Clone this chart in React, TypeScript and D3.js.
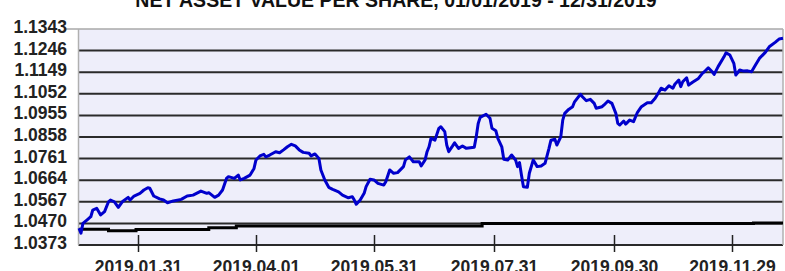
import React, { useEffect, useRef } from "react";
import * as d3 from "d3";

const chartTitle = "NET ASSET VALUE PER SHARE, 01/01/2019 - 12/31/2019";

const yTicks = [1.0373, 1.047, 1.0567, 1.0664, 1.0761, 1.0858, 1.0955, 1.1052, 1.1149, 1.1246, 1.1343];
const xTicks = ["2019-01-31", "2019-04-01", "2019-05-31", "2019-07-31", "2019-09-30", "2019-11-29"];

// NAV per share (blue)
const navDates = [
  "2019-01-01", "2019-01-02", "2019-01-03", "2019-01-05", "2019-01-07", "2019-01-08", "2019-01-10", "2019-01-12",
  "2019-01-14", "2019-01-16", "2019-01-17", "2019-01-19", "2019-01-21", "2019-01-23", "2019-01-26", "2019-01-27",
  "2019-01-29", "2019-02-01", "2019-02-03", "2019-02-05", "2019-02-06", "2019-02-08", "2019-02-11", "2019-02-13",
  "2019-02-15", "2019-02-18", "2019-02-22", "2019-02-25", "2019-02-28", "2019-03-04", "2019-03-07", "2019-03-08",
  "2019-03-11", "2019-03-13", "2019-03-15", "2019-03-17", "2019-03-18", "2019-03-21", "2019-03-23", "2019-03-24",
  "2019-03-26", "2019-03-29", "2019-03-31", "2019-04-01", "2019-04-03", "2019-04-05", "2019-04-06", "2019-04-08",
  "2019-04-11", "2019-04-13", "2019-04-15", "2019-04-17", "2019-04-19", "2019-04-21", "2019-04-23", "2019-04-25",
  "2019-04-28", "2019-04-29", "2019-05-01", "2019-05-03", "2019-05-04", "2019-05-06", "2019-05-08", "2019-05-10",
  "2019-05-13", "2019-05-15", "2019-05-18", "2019-05-20", "2019-05-21", "2019-05-22", "2019-05-24", "2019-05-26",
  "2019-05-27", "2019-05-29", "2019-05-31", "2019-06-02", "2019-06-05", "2019-06-06", "2019-06-08", "2019-06-10",
  "2019-06-12", "2019-06-15", "2019-06-16", "2019-06-18", "2019-06-20", "2019-06-23", "2019-06-24", "2019-06-26",
  "2019-06-27", "2019-06-28", "2019-06-29", "2019-07-01", "2019-07-03", "2019-07-04", "2019-07-06", "2019-07-07",
  "2019-07-08", "2019-07-10", "2019-07-11", "2019-07-13", "2019-07-15", "2019-07-17", "2019-07-21", "2019-07-22",
  "2019-07-23", "2019-07-24", "2019-07-27", "2019-07-29", "2019-07-30", "2019-08-01", "2019-08-02", "2019-08-04",
  "2019-08-05", "2019-08-07", "2019-08-09", "2019-08-11", "2019-08-12", "2019-08-13", "2019-08-14", "2019-08-15",
  "2019-08-17", "2019-08-18", "2019-08-20", "2019-08-22", "2019-08-24", "2019-08-26", "2019-08-28", "2019-08-29",
  "2019-08-31", "2019-09-01", "2019-09-03", "2019-09-04", "2019-09-05", "2019-09-07", "2019-09-09", "2019-09-10",
  "2019-09-13", "2019-09-14", "2019-09-16", "2019-09-18", "2019-09-20", "2019-09-21", "2019-09-24", "2019-09-25",
  "2019-09-27", "2019-09-29", "2019-10-01", "2019-10-02", "2019-10-03", "2019-10-05", "2019-10-06", "2019-10-08",
  "2019-10-10", "2019-10-12", "2019-10-14", "2019-10-17", "2019-10-19", "2019-10-21", "2019-10-23", "2019-10-24",
  "2019-10-26", "2019-10-28", "2019-10-30", "2019-10-31", "2019-11-02", "2019-11-03", "2019-11-04", "2019-11-06",
  "2019-11-07", "2019-11-09", "2019-11-12", "2019-11-14", "2019-11-15", "2019-11-17", "2019-11-19", "2019-11-20",
  "2019-11-22", "2019-11-25", "2019-11-26", "2019-11-28", "2019-11-30", "2019-12-01", "2019-12-03", "2019-12-05",
  "2019-12-07", "2019-12-09", "2019-12-11", "2019-12-13", "2019-12-16", "2019-12-18", "2019-12-21", "2019-12-23",
  "2019-12-25",
];
const navValues = [
  1.0448, 1.0426, 1.047, 1.0485, 1.05, 1.053, 1.0538, 1.0508,
  1.0523, 1.0567, 1.0575, 1.0567, 1.0542, 1.0567, 1.0587, 1.0575,
  1.0593, 1.0605, 1.062, 1.063, 1.0628, 1.0593, 1.058, 1.0575,
  1.0563, 1.0571, 1.0578, 1.0593, 1.0597, 1.0615, 1.0605, 1.0608,
  1.0587, 1.0597, 1.062, 1.0672, 1.068, 1.0672, 1.0687, 1.0665,
  1.0672, 1.0687, 1.0717, 1.0755, 1.0773, 1.078, 1.0769, 1.0777,
  1.0792, 1.0787, 1.08, 1.0814, 1.0825, 1.0818, 1.08, 1.0789,
  1.0785, 1.0773, 1.0782, 1.0762, 1.071, 1.0665, 1.0632, 1.0623,
  1.0612, 1.0597, 1.0585, 1.059, 1.0575, 1.0556, 1.0575, 1.0605,
  1.0635, 1.0668, 1.0665, 1.065, 1.0642, 1.0657, 1.071, 1.0695,
  1.0698, 1.0725, 1.0755, 1.0769, 1.0747, 1.0747, 1.0728, 1.0755,
  1.0792, 1.0814, 1.0852, 1.0844, 1.0897, 1.0904, 1.0882, 1.0822,
  1.0792, 1.0818, 1.0832, 1.0807, 1.0818, 1.0807, 1.0812, 1.0859,
  1.0919, 1.0946, 1.096, 1.0942, 1.0897, 1.0886, 1.0852, 1.0814,
  1.0758, 1.0755, 1.0777, 1.0755, 1.0725, 1.0743, 1.0687, 1.0635,
  1.0632, 1.0695, 1.0755, 1.0725, 1.0728, 1.074, 1.0807, 1.0844,
  1.0848, 1.0822, 1.0859, 1.0934, 1.0964, 1.0982, 1.0994, 1.1016,
  1.105, 1.1039, 1.1021, 1.1027, 1.1009, 1.0987, 1.0994, 1.1002,
  1.102, 1.1009, 1.0964, 1.0919, 1.0912, 1.093, 1.0916, 1.0934,
  1.0927, 1.0969, 1.0994, 1.1012, 1.1012, 1.1032, 1.1061, 1.1077,
  1.1069, 1.1088, 1.1077, 1.1095, 1.1114, 1.1084, 1.1106, 1.1124,
  1.1091, 1.1104, 1.1121, 1.1144, 1.1151, 1.1169, 1.1151, 1.1139,
  1.1174, 1.1218, 1.1236, 1.1226, 1.1189, 1.1136, 1.1159, 1.1154,
  1.1155, 1.1151, 1.1181, 1.1211, 1.1238, 1.1263, 1.1283, 1.1298,
  1.1301,
];

// benchmark (black, stepped)
const benchDates = ["2019-01-01", "2019-01-16", "2019-01-30", "2019-03-08", "2019-03-22", "2019-07-25", "2019-12-10", "2019-12-25"];
const benchValues = [1.0444, 1.0437, 1.0443, 1.045, 1.0458, 1.047, 1.0472, 1.0472];

const W = 785;
const H = 271;

export default function App() {
  const svgRef = useRef<SVGSVGElement>(null);

  useEffect(() => {
    document.body.style.margin = "0";
    const svg = d3.select(svgRef.current);
    svg.selectAll("*").remove();

    const left = 78.5, right = 783, top = 29, bottom = 245;
    const parse = d3.timeParse("%Y-%m-%d");
    const fmt = d3.timeFormat("%Y.%m.%d");
    const font = "'Liberation Sans', Arial, sans-serif";

    const nav = navDates.map((d, i) => ({ date: parse(d) as Date, value: navValues[i] }));
    const bench = benchDates.map((d, i) => ({ date: parse(d) as Date, value: benchValues[i] }));

    const x = d3.scaleTime()
      .domain(d3.extent(nav, d => d.date) as [Date, Date])
      .range([left + 0.5, right]);
    const y = d3.scaleLinear()
      .domain([yTicks[0], yTicks[yTicks.length - 1]])
      .range([bottom, top]);

    // plot background
    svg.append("rect")
      .attr("x", left).attr("y", top)
      .attr("width", right - left).attr("height", bottom - top)
      .attr("fill", "#eeeefa");

    // gridlines
    svg.append("g")
      .selectAll("line")
      .data(yTicks.slice(0, -1))
      .join("line")
      .attr("x1", left).attr("x2", right)
      .attr("y1", d => y(d)).attr("y2", d => y(d))
      .attr("stroke", "#2a2a2a")
      .attr("stroke-width", 2);

    // frame (top / left / right)
    svg.append("line")
      .attr("x1", 66).attr("x2", right)
      .attr("y1", y(yTicks[yTicks.length - 1])).attr("y2", y(yTicks[yTicks.length - 1]))
      .attr("stroke", "#a8a8a8").attr("stroke-width", 1.5);
    svg.append("line")
      .attr("x1", left).attr("x2", left).attr("y1", top).attr("y2", bottom)
      .attr("stroke", "#b0b0b0").attr("stroke-width", 1.5);
    svg.append("line")
      .attr("x1", right).attr("x2", right).attr("y1", top).attr("y2", bottom)
      .attr("stroke", "#b0b0b0").attr("stroke-width", 1.5);

    // y labels
    svg.append("g")
      .selectAll("text")
      .data(yTicks)
      .join("text")
      .attr("x", 67)
      .attr("y", d => y(d) + 4)
      .attr("text-anchor", "end")
      .attr("font-family", font)
      .attr("font-weight", "bold")
      .attr("font-size", 17.5)
      .attr("fill", "#222")
      .text(d => d.toFixed(4));

    // x ticks + labels (labels run off the bottom edge as in the original)
    const xt = svg.append("g")
      .selectAll("g")
      .data(xTicks.map(d => parse(d) as Date))
      .join("g")
      .attr("transform", d => `translate(${Math.round(x(d)) + 0.5},0)`);
    xt.append("line")
      .attr("y1", bottom - 10).attr("y2", bottom + 7)
      .attr("stroke", "#222").attr("stroke-width", 1.5);
    xt.append("text")
      .attr("y", 273)
      .attr("text-anchor", "middle")
      .attr("font-family", font)
      .attr("font-weight", "bold")
      .attr("font-size", 17.5)
      .attr("fill", "#222")
      .text(d => fmt(d));

    // benchmark
    const benchLine = d3.line<{ date: Date; value: number }>()
      .x(d => x(d.date))
      .y(d => y(d.value))
      .curve(d3.curveStepAfter);
    svg.append("path")
      .datum(bench)
      .attr("d", benchLine)
      .attr("fill", "none")
      .attr("stroke", "#000")
      .attr("stroke-width", 3);

    // NAV line
    const navLine = d3.line<{ date: Date; value: number }>()
      .x(d => x(d.date))
      .y(d => y(d.value));
    svg.append("path")
      .datum(nav)
      .attr("d", navLine)
      .attr("fill", "none")
      .attr("stroke", "#0000cc")
      .attr("stroke-width", 3)
      .attr("stroke-linejoin", "round");

    // title
    svg.append("text")
      .attr("x", 396)
      .attr("y", 7)
      .attr("text-anchor", "middle")
      .attr("font-family", font)
      .attr("font-weight", "bold")
      .attr("font-size", 19.5)
      .attr("fill", "#111")
      .text(chartTitle);
  }, []);

  return (
    <svg
      ref={svgRef}
      width={W}
      height={H}
      style={{ position: "absolute", left: 0, top: 0, display: "block", background: "#fff" }}
    />
  );
}
